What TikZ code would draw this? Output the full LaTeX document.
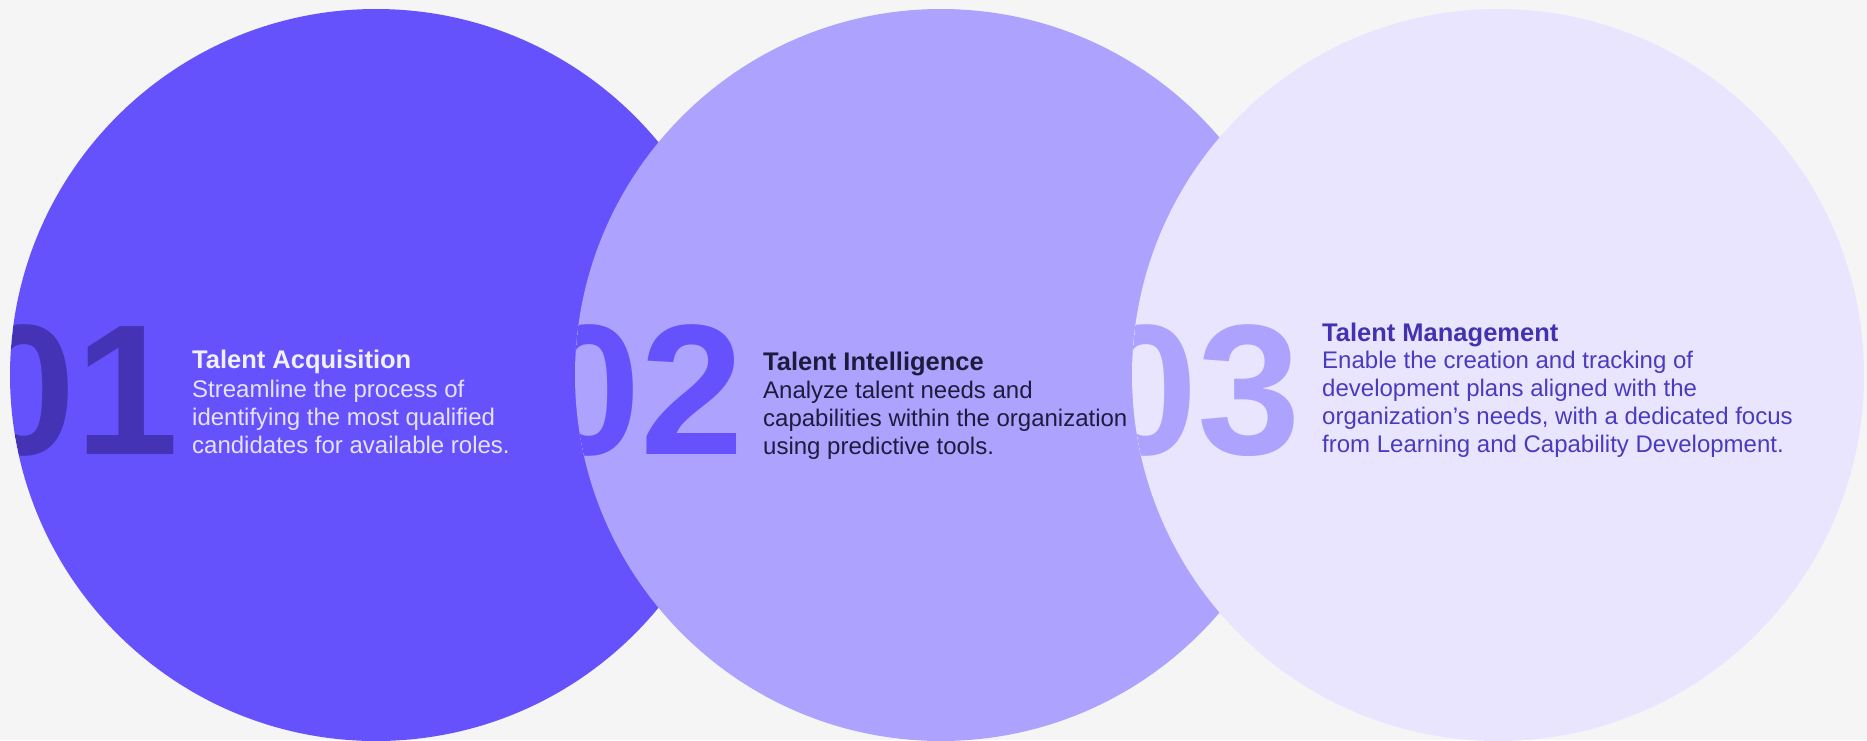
\documentclass[tikz,border=0pt]{standalone}
\usepackage{fontspec}
\setmainfont{Liberation Sans}

\definecolor{pagebg}{HTML}{F5F5F5}
\definecolor{discA}{HTML}{6652FD}
\definecolor{discB}{HTML}{ADA3FF}
\definecolor{discC}{HTML}{E9E5FF}
\definecolor{numA}{HTML}{4434B5}
\definecolor{titleA}{HTML}{F2F0FF}
\definecolor{bodyA}{HTML}{E6E2FF}
\definecolor{inkB}{HTML}{1F1B3D}
\definecolor{titleC}{HTML}{4232AF}
\definecolor{bodyC}{HTML}{4A3BBE}

\tikzset{
  disc/.style={fill=#1, draw=none},
  bignum/.style={anchor=base west, inner sep=0pt, text=#1,
    font=\fontsize{186}{186}\selectfont\bfseries},
  ttl/.style={anchor=base west, inner sep=0pt, text=#1,
    font=\fontsize{25.5}{28}\selectfont\bfseries},
  bodyline/.style={anchor=base west, inner sep=0pt, text=#1,
    font=\fontsize{24}{28}\selectfont},
}

\begin{document}
\begin{tikzpicture}[x=1pt, y=-1pt]
  % canvas
  \fill[pagebg] (0,0) rectangle (1867,740);
  \useasboundingbox (0,0) rectangle (1867,740);

  % the three overlapping discs, drawn left to right
  \fill[disc=discA] (376,375) circle[radius=366pt];
  \fill[disc=discB] (941,375) circle[radius=366pt];
  \fill[disc=discC] (1498,375) circle[radius=366pt];

  % large step numbers, each cut off by its own disc
  \begin{scope}
    \clip (376,375) circle[radius=366pt];
    \node[bignum=numA] (n1) at (-28,454) {01};
  \end{scope}
  \begin{scope}
    \clip (941,375) circle[radius=366pt];
    \node[bignum=discA] (n2) at (537,454) {02};
  \end{scope}
  \begin{scope}
    \clip (1498,375) circle[radius=366pt];
    \node[bignum=discB] (n3) at (1094,454) {03};
  \end{scope}

  % step 1
  \node[ttl=titleA] (t1) at (192,368) {Talent Acquisition};
  \node[bodyline=bodyA] (t1a) at (192,397) {Streamline the process of};
  \node[bodyline=bodyA] (t1b) at (192,425) {identifying the most qualified};
  \node[bodyline=bodyA] (t1c) at (192,453) {candidates for available roles.};

  % step 2
  \node[ttl=inkB] (t2) at (763,370) {Talent Intelligence};
  \node[bodyline=inkB] (t2a) at (763,398) {Analyze talent needs and};
  \node[bodyline=inkB] (t2b) at (763,426) {capabilities within the organization};
  \node[bodyline=inkB] (t2c) at (763,454) {using predictive tools.};

  % step 3
  \node[ttl=titleC] (t3) at (1322,341) {Talent Management};
  \node[bodyline=bodyC] (t3a) at (1322,368) {Enable the creation and tracking of};
  \node[bodyline=bodyC] (t3b) at (1322,396) {development plans aligned with the};
  \node[bodyline=bodyC] (t3c) at (1322,424) {organization’s needs, with a dedicated focus};
  \node[bodyline=bodyC] (t3d) at (1322,452) {from Learning and Capability Development.};
\end{tikzpicture}
\end{document}
